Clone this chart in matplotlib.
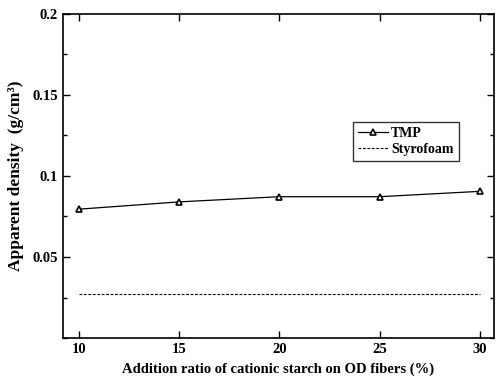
import matplotlib
matplotlib.use("Agg")
import matplotlib.pyplot as plt
from matplotlib.ticker import MultipleLocator

# data
ratio = [10, 15, 20, 25, 30]
tmp_density = [0.0795, 0.0840, 0.0872, 0.0872, 0.0905]
styro_density = [0.027, 0.027, 0.027, 0.027, 0.027]

plt.rcParams['font.family'] = ['Liberation Serif', 'DejaVu Serif']
plt.rcParams['font.weight'] = 'bold'

fig = plt.figure(figsize=(4.99, 3.85), dpi=100)
ax = fig.add_axes([0.126, 0.122, 0.864, 0.842])

ax.plot(ratio, tmp_density, color='black', linewidth=0.9, marker='^',
        markersize=5, markerfacecolor='white', markeredgecolor='black',
        markeredgewidth=1.2, label='TMP')
ax.plot(ratio, styro_density, color='black', linewidth=0.8,
        linestyle=(0, (2.5, 1.5)), label='Styrofoam')

ax.set_xlim(9.2, 30.7)
ax.set_ylim(0, 0.2)
ax.xaxis.set_major_locator(MultipleLocator(5))
ax.yaxis.set_minor_locator(MultipleLocator(0.025))
ax.set_yticks([0.05, 0.1, 0.15, 0.2])
ax.set_yticklabels(['0.05', '0.1', '0.15', '0.2'])
ax.tick_params(which='both', direction='in', top=True, right=True,
               labelsize=10.5, width=1.0)
ax.tick_params(which='major', length=5)
ax.tick_params(which='minor', length=3)
for lbl in ax.get_xticklabels() + ax.get_yticklabels():
    lbl.set_fontweight('bold')
for sp in ax.spines.values():
    sp.set_linewidth(1.2)

ax.set_xlabel('Addition ratio of cationic starch on OD fibers (%)',
              fontsize=10.5, fontweight='bold', labelpad=5)
ax.set_ylabel('Apparent density  (g/cm³)',
              fontsize=12.5, fontweight='bold', labelpad=6)

leg = ax.legend(loc='upper left', bbox_to_anchor=(0.673, 0.667),
                fontsize=10, frameon=True, fancybox=False, handlelength=2.2,
                handletextpad=0.2, borderpad=0.35, labelspacing=0.25,
                borderaxespad=0)
leg.get_frame().set_edgecolor('black')
leg.get_frame().set_linewidth(1.0)
for t in leg.get_texts():
    t.set_fontweight('bold')

fig.savefig('out.png', dpi=100)
